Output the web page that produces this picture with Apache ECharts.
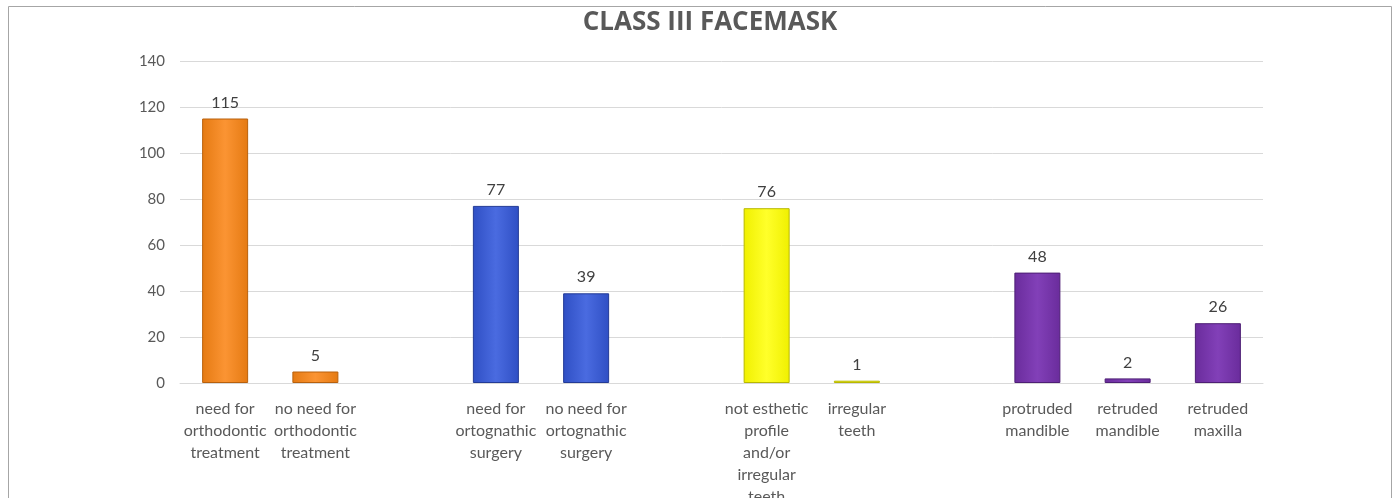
<!DOCTYPE html>
<html>
<head>
<meta charset="utf-8">
<title>CLASS III FACEMASK</title>
<style>
  html, body { margin: 0; padding: 0; background: #fff; }
  #main { width: 1399px; height: 498px; }
</style>
</head>
<body>
<div id="main"></div>
<script src="https://cdn.jsdelivr.net/npm/echarts@6/dist/echarts.min.js"></script>
<script>
// categories (empty strings are the gaps between groups)
var categories = [
  'need for\northodontic\ntreatment', 'no need for\northodontic\ntreatment', '',
  'need for\nortognathic\nsurgery', 'no need for\nortognathic\nsurgery', '',
  'not esthetic\nprofile\nand/or\nirregular\nteeth', 'irregular\nteeth', '',
  'protruded\nmandible', 'retruded\nmandible', 'retruded\nmaxilla'
];
var values = [115, 5, null, 77, 39, null, 76, 1, null, 48, 2, 26];
// which colour group each category belongs to
var groups = [0, 0, -1, 1, 1, -1, 2, 2, -1, 3, 3, 3];
var yTicks = [0, 20, 40, 60, 80, 100, 120, 140];

// bar colours: [edge, centre, border]
var palette = [
  ['#e57a12', '#fb9433', '#b8600c'],
  ['#2f4fc4', '#4a6be0', '#233b96'],
  ['#f0f000', '#ffff2a', '#b8b800'],
  ['#6a2c9c', '#8240b8', '#4e1f75']
];

function barStyle(g) {
  var p = palette[g];
  return {
    color: new echarts.graphic.LinearGradient(0, 0, 1, 0, [
      { offset: 0, color: p[0] },
      { offset: 0.5, color: p[1] },
      { offset: 1, color: p[0] }
    ]),
    borderColor: p[2],
    borderWidth: 1
  };
}

var seriesData = values.map(function (v, i) {
  if (v === null) return { value: null };
  return { value: v, itemStyle: barStyle(groups[i]) };
});

var myChart = echarts.init(document.getElementById('main'));
myChart.setOption({
  animation: false,
  backgroundColor: '#fff',
  textStyle: { fontFamily: 'Lato, "Noto Sans", sans-serif' },
  title: {
    text: 'CLASS III FACEMASK',
    left: 705,
    top: 5,
    textAlign: 'center',
    textStyle: {
      fontSize: 26,
      fontWeight: 'bold',
      color: '#595959',
      fontFamily: '"Liberation Sans Narrow", "Open Sans", sans-serif'
    }
  },
  graphic: [{
    type: 'polyline',
    shape: { points: [[8.5, 510], [8.5, 6.5], [1391.5, 6.5], [1391.5, 510]] },
    style: { stroke: '#a6a6a6', lineWidth: 1, fill: null }
  }],
  grid: { left: 180, right: 136, top: 61, bottom: 115, outerBoundsMode: 'none', containLabel: false },
  xAxis: {
    type: 'category',
    data: categories,
    axisLine: { lineStyle: { color: '#d9d9d9', width: 1 } },
    axisTick: { show: false },
    axisLabel: {
      interval: 0,
      color: '#595959',
      fontSize: 16,
      lineHeight: 22,
      margin: 15
    }
  },
  yAxis: {
    type: 'value',
    min: yTicks[0],
    max: yTicks[yTicks.length - 1],
    interval: 20,
    axisLine: { show: false },
    axisTick: { show: false },
    axisLabel: { color: '#595959', fontSize: 15, margin: 15 },
    splitLine: { lineStyle: { color: '#d9d9d9', width: 1 } }
  },
  series: [{
    type: 'bar',
    data: seriesData,
    barWidth: 46,
    label: {
      show: true,
      position: 'top',
      distance: 8,
      color: '#404040',
      fontSize: 16
    }
  }]
});
</script>
</body>
</html>
